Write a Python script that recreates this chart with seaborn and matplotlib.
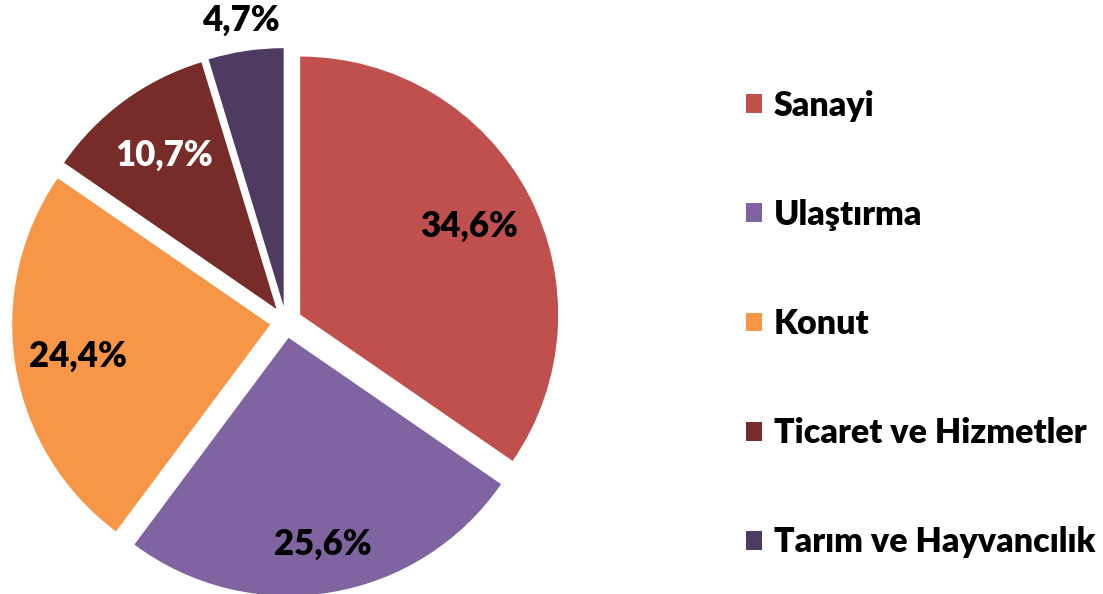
import numpy as np
import matplotlib
matplotlib.use("Agg")
import matplotlib.pyplot as plt
from matplotlib.patches import Patch
import seaborn as sns

# Sector shares (%)
sectors = ["Sanayi", "Ulaştırma", "Konut", "Ticaret ve Hizmetler", "Tarım ve Hayvancılık"]
shares = [34.6, 25.6, 24.4, 10.7, 4.7]
colors = ["#C0504D", "#8064A2", "#F79646", "#772C2A", "#4D3B62"]
label_colors = ["black", "black", "black", "white", "black"]
label_dist = [0.74, 0.81, 0.755, 0.74, 1.12]

sns.set_theme(style="white")
plt.rcParams["font.family"] = ["Lato", "DejaVu Sans"]

fig = plt.figure(figsize=(11.03, 5.94), dpi=100)
# 1 data unit = 258 px, pie centre at pixel (286, 322)
ax = fig.add_axes([0, 0, 594 / 1103, 1])

explode = [0.062] * len(shares)
wedges, _ = ax.pie(shares, colors=colors, startangle=90, counterclock=False,
                   explode=explode, radius=1.0,
                   wedgeprops=dict(linewidth=0))
ax.set_xlim(-286 / 258, (594 - 286) / 258)
ax.set_ylim(-272 / 258, 322 / 258)
ax.set_aspect("equal")
ax.axis("off")

for w, val, c, d in zip(wedges, shares, label_colors, label_dist):
    ang = np.deg2rad((w.theta1 + w.theta2) / 2)
    cx, cy = w.center
    x = cx + d * np.cos(ang)
    y = cy + d * np.sin(ang)
    ax.text(x, y, f"{val:.1f}%".replace(".", ","), ha="center", va="center",
            fontsize=25, fontweight="heavy", color=c)

handles = [Patch(facecolor=c, edgecolor="none") for c in colors]
fig.legend(handles, sectors, loc="center left", bbox_to_anchor=(746 / 1103, 1 - 324 / 594),
           frameon=False, prop=dict(size=24.5, weight="heavy"), labelcolor="black",
           handlelength=0.47, handleheight=0.47, handletextpad=0.35,
           labelspacing=2.27, borderpad=0, borderaxespad=0)

fig.savefig("out.png", dpi=100)
